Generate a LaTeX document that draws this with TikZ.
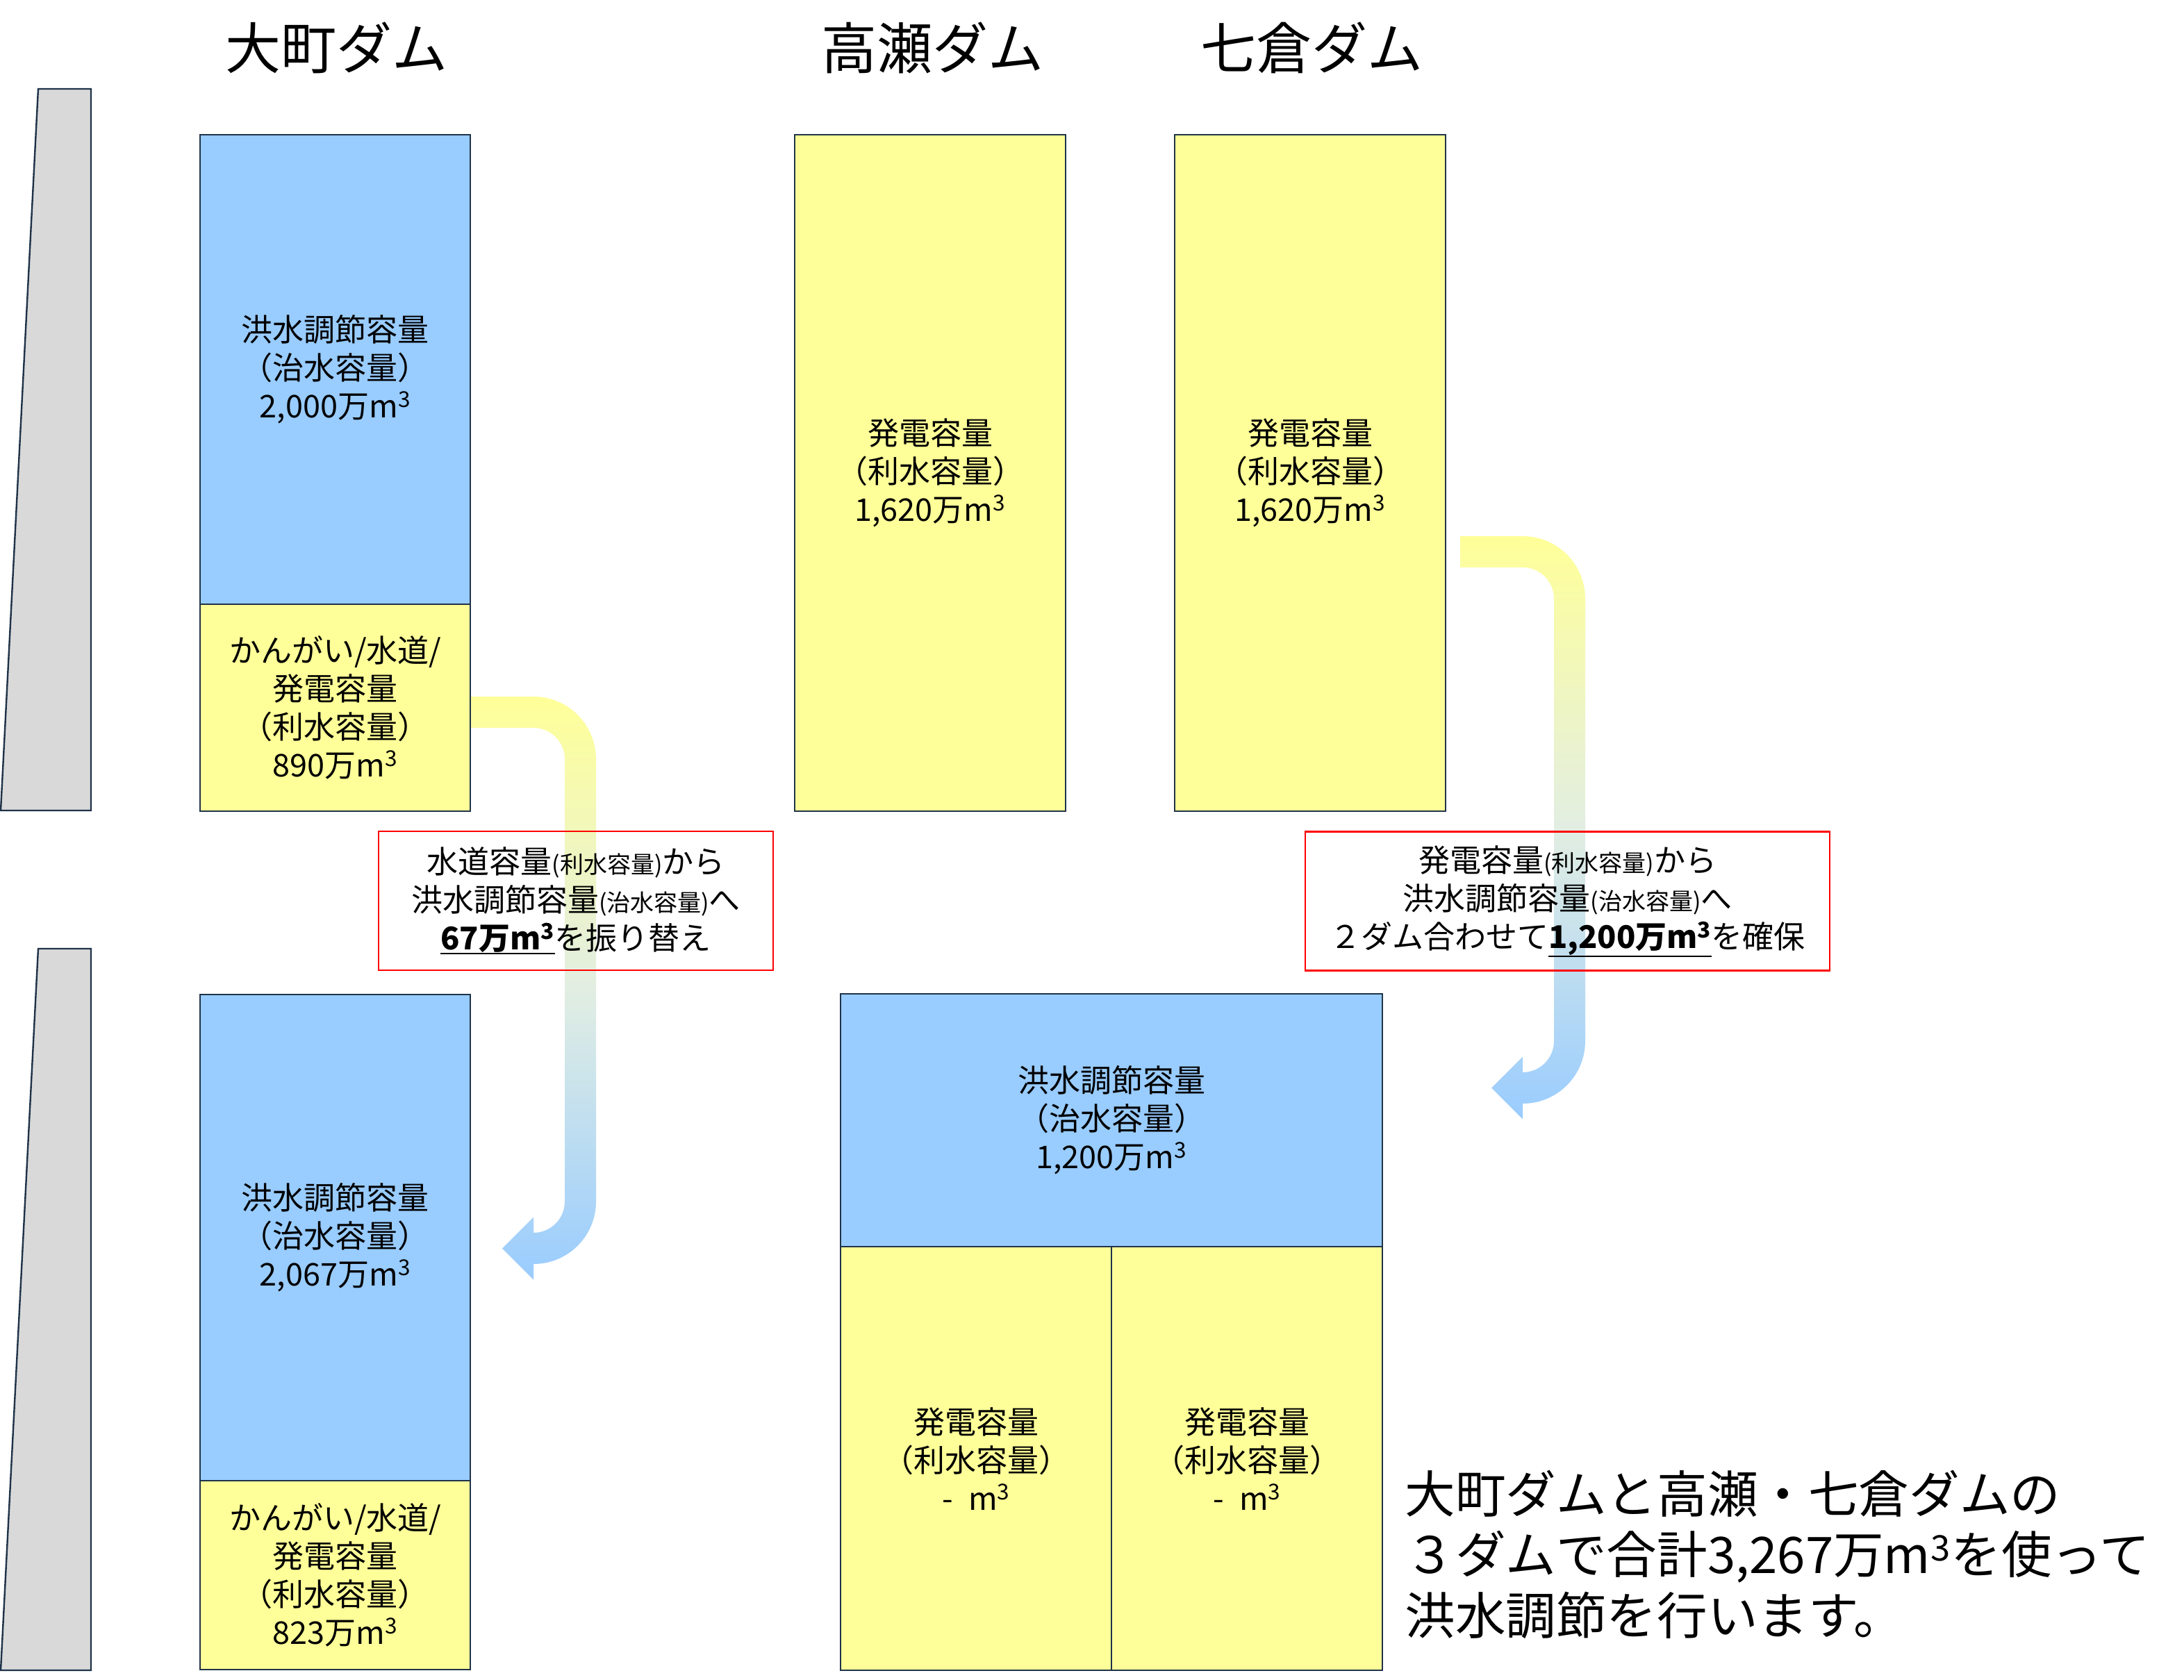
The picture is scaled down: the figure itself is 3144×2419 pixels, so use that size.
\documentclass[tikz,border=0pt]{standalone}
\usepackage{fontspec}
\setmainfont{Noto Sans CJK JP}
\definecolor{capblue}{HTML}{99CCFF}
\definecolor{capyellow}{HTML}{FFFF99}
\definecolor{edgecol}{HTML}{1F3349}
\definecolor{wallgray}{HTML}{D9D9D9}
\definecolor{midtone}{HTML}{E2EEE2}
\newcommand\smtext[1]{{\fontsize{17}{27.5}\selectfont #1}}
\newcommand\cubem{m\textsuperscript{3}}
\newcommand\thickul[1]{\leavevmode\vtop{\hbox{#1}\kern0.2pt\hrule height 1pt}}
\tikzset{
  capbox/.style={draw=edgecol, line width=1.2pt, anchor=north west, inner sep=0pt,
    align=center, font=\fontsize{22.5}{27.5}\selectfont},
  bluecap/.style={capbox, fill=capblue},
  yelcap/.style={capbox, fill=capyellow},
  wallshape/.style={draw=edgecol, line width=1.2pt, fill=wallgray},
  damtitle/.style={inner sep=0pt, font=\fontsize{40}{46}\selectfont},
  notebox/.style={draw=red, line width=1.2pt, inner sep=0pt, align=center,
    font=\fontsize{22.5}{27.5}\selectfont},
  flowshade/.style={top color=capyellow, bottom color=capblue, middle color=midtone},
}
\newcommand\flowpath{%
  (0,-22.5) -- (90,-22.5)
  arc[start angle=270, end angle=360, radius=90]
  -- (180,704.5)
  arc[start angle=0, end angle=90, radius=90]
  -- (90,817) -- (45,772) -- (90,727) -- (90,749.5)
  arc[start angle=90, end angle=0, radius=45]
  -- (135,67.5)
  arc[start angle=0, end angle=-90, radius=45]
  -- (0,22.5) -- cycle}
\begin{document}
\begin{tikzpicture}[x=0.5pt, y=-0.5pt]
\useasboundingbox (0,0) rectangle (3144,2419);
\fill[white] (0,0) rectangle (3144,2419);

% titles
\node[damtitle] (tOmachi) at (484,69) {大町ダム};
\node[damtitle] (tTakase) at (1342,69) {高瀬ダム};
\node[damtitle] (tNanakura) at (1888,69) {七倉ダム};

% dam walls
\draw[wallshape] (1,1167) -- (55,128) -- (131,128) -- (131,1167) -- cycle;
\draw[wallshape] (1,2405) -- (55,1366) -- (131,1366) -- (131,2405) -- cycle;

% upper boxes
\node[bluecap, minimum width=194.5pt, minimum height=338pt] (oFlood) at (287,193)
  {洪水調節容量\\（治水容量）\\2,000万\cubem};
\node[yelcap, minimum width=194.5pt, minimum height=149pt] (oUse) at (287,869)
  {かんがい/水道/\\発電容量\\（利水容量）\\890万\cubem};
\node[yelcap, minimum width=195pt, minimum height=487pt] (tUse) at (1143,193)
  {発電容量\\（利水容量）\\1,620万\cubem};
\node[yelcap, minimum width=195pt, minimum height=487pt] (nUse) at (1690,193)
  {発電容量\\（利水容量）\\1,620万\cubem};

% lower boxes
\node[bluecap, minimum width=194.5pt, minimum height=350pt] (oFlood2) at (287,1431)
  {洪水調節容量\\（治水容量）\\2,067万\cubem};
\node[yelcap, minimum width=194.5pt, minimum height=136pt] (oUse2) at (287,2131)
  {かんがい/水道/\\発電容量\\（利水容量）\\823万\cubem};
\node[bluecap, minimum width=390pt, minimum height=182pt] (tnFlood) at (1209,1430)
  {洪水調節容量\\（治水容量）\\1,200万\cubem};
\node[yelcap, minimum width=195pt, minimum height=305pt] (tUse2) at (1209,1794)
  {発電容量\\（利水容量）\\-\enspace\cubem};
\node[yelcap, minimum width=195pt, minimum height=305pt] (nUse2) at (1599,1794)
  {発電容量\\（利水容量）\\-\enspace\cubem};

% flow arrows
\begin{scope}[shift={(678,1025.5)}]
  \shade[flowshade] \flowpath;
\end{scope}
\begin{scope}[shift={(2102,794.5)}]
  \shade[flowshade] \flowpath;
\end{scope}

% notes
\node[notebox, minimum width=284pt, minimum height=100pt] (note1) at (829,1297)
  {水道容量\smtext{(利水容量)}から\\洪水調節容量\smtext{(治水容量)}へ\\\thickul{\textbf{67万\cubem}}を振り替え};
\node[notebox, minimum width=377.5pt, minimum height=100pt] (note2) at (2256.5,1297.5)
  {発電容量\smtext{(利水容量)}から\\洪水調節容量\smtext{(治水容量)}へ\\２ダム合わせて\thickul{\textbf{1,200万\cubem}}を確保};

% summary
\node[anchor=west, align=left, inner sep=0pt, font=\fontsize{36.3}{43.75}\selectfont] (summary) at (2022,2238)
  {大町ダムと高瀬・七倉ダムの\\３ダムで合計3,267万\cubem を使って\\洪水調節を行います。};
\end{tikzpicture}
\end{document}
